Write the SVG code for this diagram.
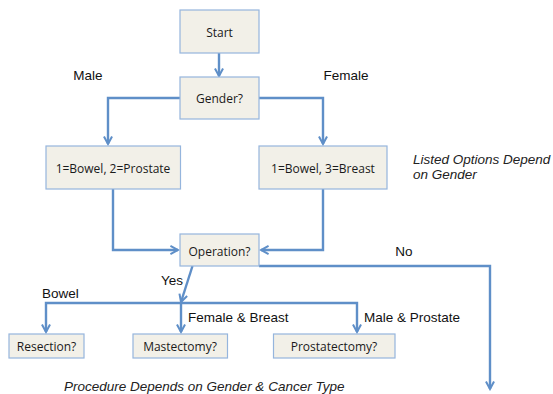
<svg xmlns="http://www.w3.org/2000/svg" width="553" height="394" viewBox="0 0 553 394">
<style>
.box{fill:#F2F0E8;stroke:#95B5DD;stroke-width:1.2}
.bt{font-family:"Open Sans",sans-serif;font-size:12px;fill:#1a1a1a;text-anchor:middle;dominant-baseline:central}
.lb{font-family:"Liberation Sans",Arial,sans-serif;font-size:13.5px;fill:#111}
.it{font-family:"Liberation Sans",Arial,sans-serif;font-size:13.5px;fill:#222;font-style:italic}
.cn{fill:none;stroke:#5F8FC8;stroke-width:2.4;stroke-linejoin:miter}
</style>
<defs>
<marker id="ah" viewBox="0 0 10 10" refX="8.5" refY="5" markerWidth="4.2" markerHeight="4.2" orient="auto" markerUnits="strokeWidth">
<polyline points="1,1 8.5,5 1,9" fill="none" stroke="#5F8FC8" stroke-width="2"/>
</marker>
</defs>
<g id="connectors">
<path class="cn" d="M219,53 V76" marker-end="url(#ah)"/>
<path class="cn" d="M180,98 H108 V144" marker-end="url(#ah)"/>
<path class="cn" d="M259,98 H323 V144" marker-end="url(#ah)"/>
<path class="cn" d="M113,189 V250 H178" marker-end="url(#ah)"/>
<path class="cn" d="M323,189 V250 H261" marker-end="url(#ah)"/>
<path class="cn" d="M259,266 H490 V389" marker-end="url(#ah)"/>
<path class="cn" d="M192.5,266 L181,302" marker-end="url(#ah)"/>
<path class="cn" d="M181,303 H46 V332" marker-end="url(#ah)"/>
<path class="cn" d="M181,303 V332" marker-end="url(#ah)"/>
<path class="cn" d="M181,303 H357 V332" marker-end="url(#ah)"/>
</g>
<g id="start"><rect class="box" x="180" y="10" width="79" height="43"/><text class="bt" x="219.5" y="32">Start</text></g>
<g id="gender"><rect class="box" x="180" y="77" width="79" height="42"/><text class="bt" x="219.5" y="98">Gender?</text></g>
<g id="male-options"><rect class="box" x="46" y="146" width="134.5" height="43"/><text class="bt" x="113" y="168">1=Bowel, 2=Prostate</text></g>
<g id="female-options"><rect class="box" x="259" y="146" width="128" height="43"/><text class="bt" x="323" y="168">1=Bowel, 3=Breast</text></g>
<g id="operation"><rect class="box" x="180" y="234" width="79" height="32"/><text class="bt" x="219.5" y="251">Operation?</text></g>
<g id="resection"><rect class="box" x="9" y="334" width="75" height="24"/><text class="bt" x="46.5" y="346.5">Resection?</text></g>
<g id="mastectomy"><rect class="box" x="133" y="334" width="94.5" height="24"/><text class="bt" x="180" y="346.5">Mastectomy?</text></g>
<g id="prostatectomy"><rect class="box" x="273.5" y="334" width="121.5" height="24"/><text class="bt" x="334" y="346.5">Prostatectomy?</text></g>
<g id="labels">
<text class="lb" x="88" y="80" text-anchor="middle">Male</text>
<text class="lb" x="346" y="80" text-anchor="middle">Female</text>
<text class="lb" x="404" y="256" text-anchor="middle">No</text>
<text class="lb" x="172" y="285" text-anchor="middle">Yes</text>
<text class="lb" x="42" y="298">Bowel</text>
<text class="lb" x="188" y="322">Female &amp; Breast</text>
<text class="lb" x="364" y="322">Male &amp; Prostate</text>
<text class="it" x="413" y="164">Listed Options Depend</text>
<text class="it" x="413" y="179">on Gender</text>
<text class="it" x="64" y="391">Procedure Depends on Gender &amp; Cancer Type</text>
</g>
</svg>
